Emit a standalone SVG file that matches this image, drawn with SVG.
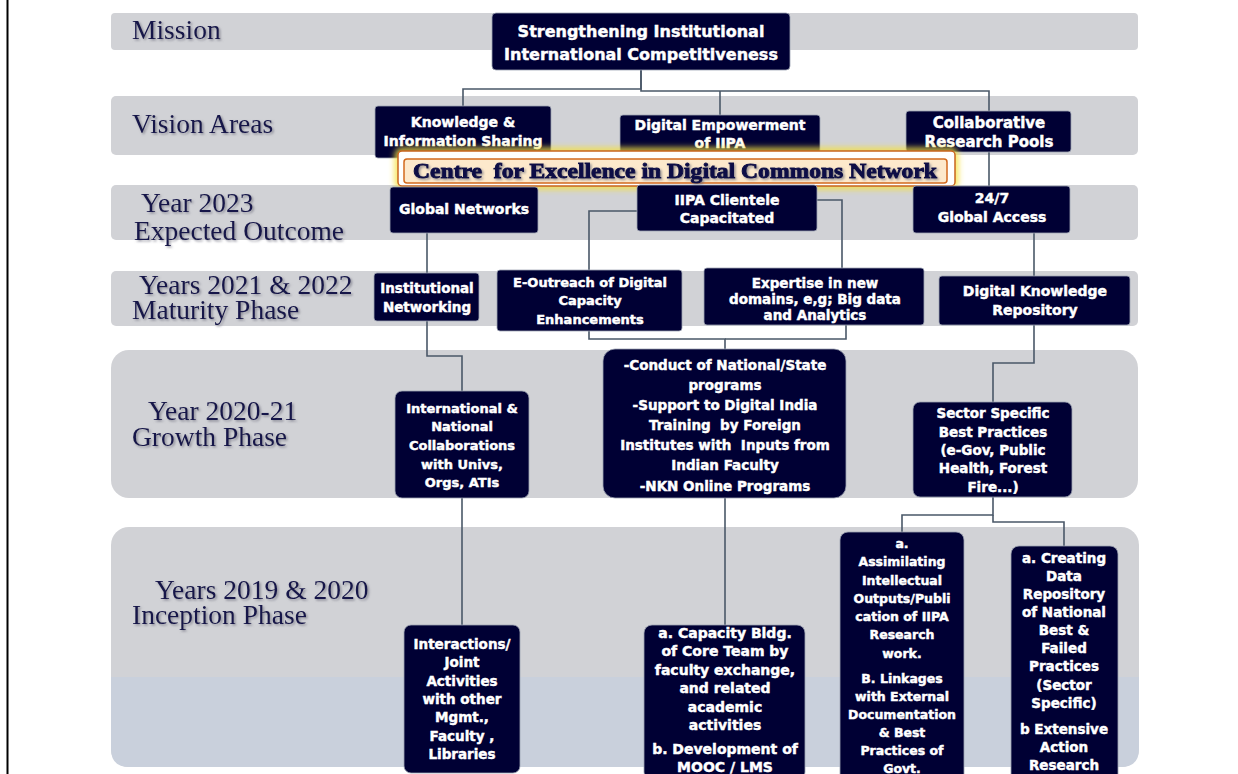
<svg xmlns="http://www.w3.org/2000/svg" width="1238" height="774" viewBox="0 0 1238 774">
<defs>
<style>
.band{fill:#d1d2d6}
.node rect{fill:#000034;stroke:#9ea4b4;stroke-width:0.8}
.nt{font-family:"DejaVu Sans","Liberation Sans",sans-serif;font-weight:bold;fill:#ffffff;stroke:#ffffff;stroke-width:0.45;text-anchor:middle;font-size:13.5px}
.lbl{font-family:"Liberation Serif","Times New Roman",serif;font-size:27.5px;fill:#15154a}
.conn path{fill:none;stroke:#4a5868;stroke-width:1.6}
</style>
<filter id="sh" x="-5%" y="-20%" width="110%" height="150%">
<feDropShadow dx="1.5" dy="1.5" stdDeviation="0.8" flood-color="#6a6a7a" flood-opacity="0.7"/>
</filter>
<filter id="glow" x="-5%" y="-40%" width="110%" height="180%">
<feGaussianBlur stdDeviation="3"/>
</filter>
</defs>
<rect x="0" y="0" width="1238" height="774" fill="#ffffff"/>
<line x1="7.5" y1="0" x2="7.5" y2="774" stroke="#000" stroke-width="2"/>

<g id="bands">
<rect class="band" x="111" y="13" width="1027" height="37" rx="4"/>
<rect class="band" x="111" y="96" width="1027" height="59" rx="5"/>
<rect class="band" x="111" y="185" width="1027" height="55" rx="5"/>
<rect class="band" x="111" y="271" width="1027" height="55" rx="5"/>
<rect class="band" x="111" y="350" width="1027" height="148" rx="18"/>
<rect class="band" x="111" y="527" width="1028" height="240" rx="18"/>
<path d="M111,677 H1139 V749 Q1139,767 1121,767 H129 Q111,767 111,749 Z" fill="#c9d0dc"/>
</g>

<g id="labels" filter="url(#sh)">
<text class="lbl" x="132" y="39">Mission</text>
<text class="lbl" x="132" y="133">Vision Areas</text>
<text class="lbl" x="141" y="212">Year 2023</text>
<text class="lbl" x="134" y="240">Expected Outcome</text>
<text class="lbl" x="139" y="294">Years 2021 &amp; 2022</text>
<text class="lbl" x="132" y="319">Maturity Phase</text>
<text class="lbl" x="148" y="420">Year 2020-21</text>
<text class="lbl" x="132" y="446">Growth Phase</text>
<text class="lbl" x="155" y="599">Years 2019 &amp; 2020</text>
<text class="lbl" x="132" y="624">Inception Phase</text>
</g>

<g id="connectors" class="conn">
<path d="M641,70 V89 H463 V106"/>
<path d="M641,70 V91 H989 V111"/>
<path d="M720,91 V115"/>
<path d="M989,152 V186"/>
<path d="M427,233 V273"/>
<path d="M427,321 V356 H462 V391"/>
<path d="M462,498 V625"/>
<path d="M637,211 H589 V270"/>
<path d="M817,200 H842 V271 H866"/>
<path d="M589,331 V339 H725 V349"/>
<path d="M846,325 V339 H725"/>
<path d="M725,498 V625"/>
<path d="M1034,233 V276"/>
<path d="M1034,325 V363 H993 V402"/>
<path d="M993,497 V515 H902 V532"/>
<path d="M993,515 V522 H1064 V546"/>
</g>

<g id="n-mission" class="node">
<rect x="492" y="13" width="298" height="57" rx="4"/>
<text class="nt" style="font-size:16px" x="641" y="37">Strengthening Institutional</text>
<text class="nt" style="font-size:16px" x="641" y="60">International Competitiveness</text>
</g>
<g id="n-knowledge" class="node">
<rect x="375" y="106" width="176" height="52" rx="3"/>
<text class="nt" style="font-size:14px" x="463" y="127">Knowledge &amp;</text>
<text class="nt" style="font-size:14px" x="463" y="146">Information Sharing</text>
</g>
<g id="n-digital" class="node">
<rect x="620" y="115" width="200" height="42" rx="3"/>
<text class="nt" style="font-size:14px" x="720" y="130">Digital Empowerment</text>
<text class="nt" style="font-size:14px" x="720" y="148">of IIPA</text>
</g>
<g id="n-collab" class="node">
<rect x="906" y="111" width="165" height="41" rx="3"/>
<text class="nt" style="font-size:15px" x="989" y="128">Collaborative</text>
<text class="nt" style="font-size:15px" x="989" y="147">Research Pools</text>
</g>

<g id="n-centre">
<rect x="398" y="151" width="557" height="35" rx="4" fill="none" stroke="#f5e23a" stroke-width="6" filter="url(#glow)"/>
<rect x="398" y="151" width="557" height="35" rx="4" fill="#ffffff" stroke="#c8641e" stroke-width="1.5"/>
<rect x="404" y="159" width="543" height="24" rx="3" fill="#fde9cc" stroke="#d2691e" stroke-width="1.5"/>
<text x="413" y="178" xml:space="preserve" textLength="524" lengthAdjust="spacingAndGlyphs" filter="url(#sh)" style="font-family:'Liberation Serif','Times New Roman',serif;font-weight:bold;font-size:20px;fill:#0a0a46;stroke:#0a0a46;stroke-width:0.9">Centre  for Excellence in Digital Commons Network</text>
</g>

<g id="n-global" class="node">
<rect x="390" y="187" width="148" height="46" rx="3"/>
<text class="nt" style="font-size:14px" x="464" y="214">Global Networks</text>
</g>
<g id="n-clientele" class="node">
<rect x="637" y="185" width="180" height="46" rx="3"/>
<text class="nt" style="font-size:14px" x="727" y="205">IIPA Clientele</text>
<text class="nt" style="font-size:14px" x="727" y="223">Capacitated</text>
</g>
<g id="n-access" class="node">
<rect x="913" y="186" width="157" height="47" rx="3"/>
<text class="nt" style="font-size:14px" x="992" y="203">24/7</text>
<text class="nt" style="font-size:14px" x="992" y="222">Global Access</text>
</g>

<g id="n-instnet" class="node">
<rect x="374" y="273" width="105" height="48" rx="3"/>
<text class="nt" x="427" y="293">Institutional</text>
<text class="nt" x="427" y="312">Networking</text>
</g>
<g id="n-eoutreach" class="node">
<rect x="497" y="270" width="185" height="61" rx="3"/>
<text class="nt" style="font-size:13px" x="590" y="287">E-Outreach of Digital</text>
<text class="nt" style="font-size:13px" x="590" y="305">Capacity</text>
<text class="nt" style="font-size:13px" x="590" y="324">Enhancements</text>
</g>
<g id="n-expertise" class="node">
<rect x="704" y="268" width="220" height="57" rx="3"/>
<text class="nt" x="815" y="288">Expertise in new</text>
<text class="nt" x="815" y="304">domains, e,g; Big data</text>
<text class="nt" x="815" y="320">and Analytics</text>
</g>
<g id="n-repository" class="node">
<rect x="939" y="276" width="191" height="49" rx="3"/>
<text class="nt" style="font-size:14px" x="1035" y="296">Digital Knowledge</text>
<text class="nt" style="font-size:14px" x="1035" y="315">Repository</text>
</g>

<g id="n-intl" class="node">
<rect x="395" y="391" width="134" height="107" rx="7"/>
<text class="nt" style="font-size:13px" x="462" y="413">International &amp;</text>
<text class="nt" style="font-size:13px" x="462" y="431">National</text>
<text class="nt" style="font-size:13px" x="462" y="450">Collaborations</text>
<text class="nt" style="font-size:13px" x="462" y="469">with Univs,</text>
<text class="nt" style="font-size:13px" x="462" y="487">Orgs, ATIs</text>
</g>
<g id="n-conduct" class="node">
<rect x="603" y="349" width="243" height="149" rx="12"/>
<text class="nt" x="725" y="370">-Conduct of National/State</text>
<text class="nt" x="725" y="390">programs</text>
<text class="nt" x="725" y="410">-Support to Digital India</text>
<text class="nt" x="725" y="430" xml:space="preserve">Training  by Foreign</text>
<text class="nt" x="725" y="450" xml:space="preserve">Institutes with  Inputs from</text>
<text class="nt" x="725" y="470">Indian Faculty</text>
<text class="nt" x="725" y="491">-NKN Online Programs</text>
</g>
<g id="n-sector" class="node">
<rect x="913" y="402" width="159" height="95" rx="7"/>
<text class="nt" x="993" y="418">Sector Specific</text>
<text class="nt" x="993" y="437">Best Practices</text>
<text class="nt" x="993" y="455">(e-Gov, Public</text>
<text class="nt" x="993" y="473">Health, Forest</text>
<text class="nt" x="993" y="492">Fire...)</text>
</g>

<g id="n-interactions" class="node">
<rect x="404" y="625" width="116" height="148" rx="7"/>
<text class="nt" x="462" y="649">Interactions/</text>
<text class="nt" x="462" y="667">Joint</text>
<text class="nt" x="462" y="686">Activities</text>
<text class="nt" x="462" y="704">with other</text>
<text class="nt" x="462" y="722">Mgmt.,</text>
<text class="nt" x="462" y="741">Faculty ,</text>
<text class="nt" x="462" y="759">Libraries</text>
</g>
<g id="n-capacity" class="node">
<rect x="644" y="625" width="161" height="155" rx="8"/>
<text class="nt" style="font-size:14px" x="725" y="638">a. Capacity Bldg.</text>
<text class="nt" style="font-size:14px" x="725" y="656">of Core Team by</text>
<text class="nt" style="font-size:14px" x="725" y="675">faculty exchange,</text>
<text class="nt" style="font-size:14px" x="725" y="693">and related</text>
<text class="nt" style="font-size:14px" x="725" y="712">academic</text>
<text class="nt" style="font-size:14px" x="725" y="730">activities</text>
<text class="nt" style="font-size:14px" x="725" y="754">b. Development of</text>
<text class="nt" style="font-size:14px" x="725" y="772">MOOC / LMS</text>
</g>
<g id="n-assimilating" class="node">
<rect x="840" y="532" width="124" height="250" rx="8"/>
<text class="nt" style="font-size:12.5px" x="902" y="548">a.</text>
<text class="nt" style="font-size:12.5px" x="902" y="566">Assimilating</text>
<text class="nt" style="font-size:12.5px" x="902" y="585">Intellectual</text>
<text class="nt" style="font-size:12.5px" x="902" y="603">Outputs/Publi</text>
<text class="nt" style="font-size:12.5px" x="902" y="621">cation of IIPA</text>
<text class="nt" style="font-size:12.5px" x="902" y="639">Research</text>
<text class="nt" style="font-size:12.5px" x="902" y="658">work.</text>
<text class="nt" style="font-size:12.5px" x="902" y="683">B. Linkages</text>
<text class="nt" style="font-size:12.5px" x="902" y="701">with External</text>
<text class="nt" style="font-size:12.5px" x="902" y="719">Documentation</text>
<text class="nt" style="font-size:12.5px" x="902" y="737">&amp; Best</text>
<text class="nt" style="font-size:12.5px" x="902" y="755">Practices of</text>
<text class="nt" style="font-size:12.5px" x="902" y="773">Govt.</text>
</g>
<g id="n-creating" class="node">
<rect x="1011" y="546" width="107" height="236" rx="8"/>
<text class="nt" x="1064" y="563">a. Creating</text>
<text class="nt" x="1064" y="581">Data</text>
<text class="nt" x="1064" y="599">Repository</text>
<text class="nt" x="1064" y="617">of National</text>
<text class="nt" x="1064" y="635">Best &amp;</text>
<text class="nt" x="1064" y="653">Failed</text>
<text class="nt" x="1064" y="671">Practices</text>
<text class="nt" x="1064" y="690">(Sector</text>
<text class="nt" x="1064" y="708">Specific)</text>
<text class="nt" x="1064" y="734">b Extensive</text>
<text class="nt" x="1064" y="752">Action</text>
<text class="nt" x="1064" y="770">Research</text>
</g>
</svg>
